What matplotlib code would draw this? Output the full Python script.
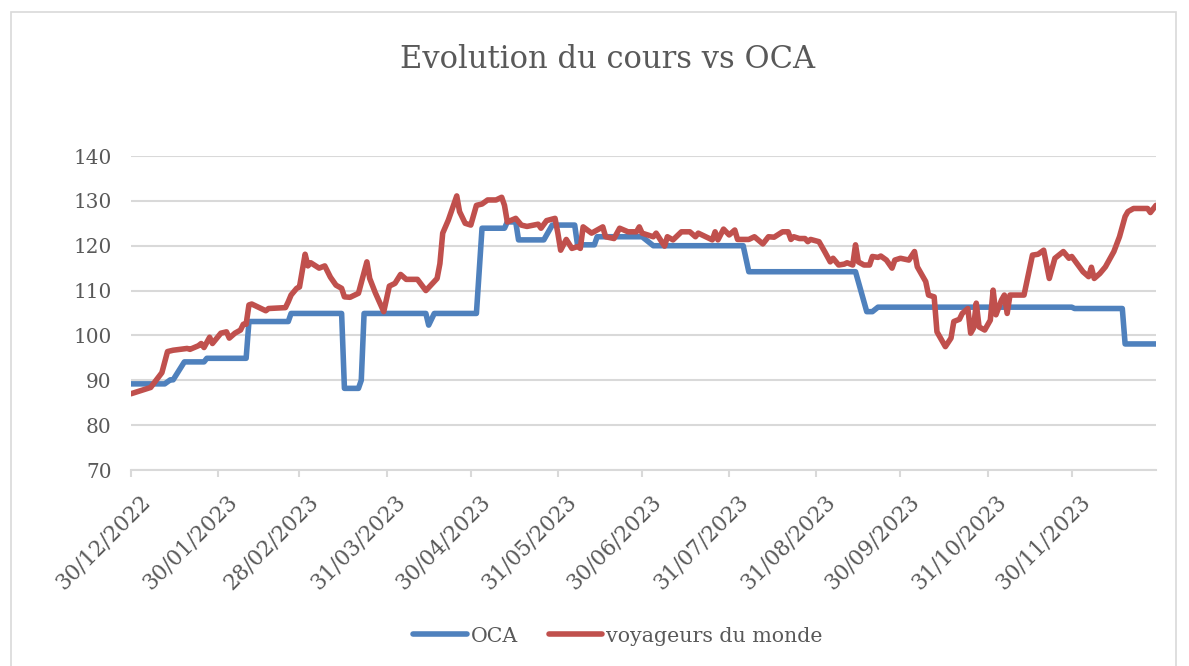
import matplotlib
matplotlib.use("Agg")
import matplotlib.pyplot as plt
import matplotlib.dates as mdates
import matplotlib.transforms as mtransforms
from matplotlib.patches import Rectangle
import pandas as pd

# Start of the series; positions below are days counted from this date
start_date = "2022-12-30"

# OCA (step-like series)
oca_days = [0, 12, 14, 15, 19, 26, 27, 41, 42, 56, 57, 75, 76, 81, 82, 83,
            105, 106, 108, 123, 125, 133, 134, 137, 138, 147, 150, 158, 159,
            165, 166, 182, 186, 218, 220, 258, 262, 264, 266, 335, 336, 353,
            354, 365]
oca_values = [89.2, 89.2, 90.1, 90.1, 94.1, 94.1, 94.9, 94.9, 103.1, 103.1,
              104.9, 104.9, 88.2, 88.2, 90.0, 104.9, 104.9, 102.3, 104.9,
              104.9, 123.9, 123.9, 125.3, 125.3, 121.3, 121.3, 124.6, 124.6,
              120.2, 120.2, 122.0, 122.0, 120.0, 120.0, 114.2, 114.2, 105.3,
              105.3, 106.3, 106.3, 106.0, 106.0, 98.1, 98.1]

# Voyageurs du Monde share price
vdm_days = [0, 7, 11, 13, 15, 20, 21, 24, 25, 26, 28, 29, 32, 34, 35, 37, 39,
            40, 41, 42, 43, 48, 49, 55, 56, 57, 59, 60, 62, 63, 64, 67, 69, 71,
            73, 75, 76, 78, 81, 84, 85, 87, 90, 92, 94, 96, 98, 102, 105, 109,
            110, 111, 113, 116, 117, 119, 121, 123, 125, 127, 130, 132, 133,
            134, 137, 139, 141, 145, 146, 148, 151, 152, 153, 155, 157, 159,
            160, 161, 164, 166, 168, 169, 172, 174, 177, 180, 181, 182, 186,
            187, 190, 191, 193, 196, 199, 201, 202, 206, 207, 208, 209, 211,
            213, 215, 216, 220, 222, 225, 227, 229, 232, 234, 235, 236, 238,
            240, 241, 242, 245, 247, 249, 250, 252, 254, 255, 257, 258, 259,
            261, 263, 264, 266, 267, 269, 271, 272, 274, 277, 279, 280, 283,
            284, 286, 287, 290, 292, 293, 295, 296, 298, 299, 300, 301, 302,
            304, 306, 307, 308, 310, 311, 312, 313, 316, 318, 321, 323, 325,
            327, 329, 332, 334, 335, 337, 339, 341, 342, 343, 345, 347, 350,
            352, 354, 355, 357, 362, 363, 365]
vdm_values = [87.0, 88.4, 91.7, 96.4, 96.7, 97.1, 96.9, 97.7, 98.2, 97.3,
              99.6, 98.2, 100.5, 100.8, 99.4, 100.5, 101.2, 102.5, 102.5,
              106.8, 107.0, 105.5, 106.0, 106.2, 107.5, 109.0, 110.5, 110.8,
              118.1, 115.5, 116.2, 115.0, 115.5, 113.0, 111.2, 110.5, 108.6,
              108.5, 109.4, 116.4, 112.7, 109.5, 105.3, 111.0, 111.6, 113.6,
              112.5, 112.5, 110.0, 112.7, 116.0, 122.8, 125.7, 131.1, 127.6,
              125.0, 124.6, 129.0, 129.3, 130.2, 130.2, 130.8, 129.0, 125.3,
              126.1, 124.6, 124.3, 124.8, 123.9, 125.6, 126.1, 122.8, 119.0,
              121.4, 119.4, 119.8, 119.4, 124.2, 122.8, 123.5, 124.2, 122.0,
              121.6, 123.9, 123.1, 123.1, 124.2, 122.8, 122.0, 122.8, 119.9,
              122.0, 121.3, 123.1, 123.1, 122.0, 122.8, 121.6, 121.3, 123.1,
              121.3, 123.7, 122.4, 123.5, 121.4, 121.4, 122.0, 120.4, 122.0,
              121.9, 123.1, 123.1, 121.4, 122.0, 121.6, 121.6, 120.9, 121.4,
              120.9, 118.7, 116.4, 117.2, 115.7, 115.9, 116.2, 115.7, 120.2,
              116.4, 115.7, 115.7, 117.6, 117.4, 117.7, 116.8, 115.0, 116.8,
              117.2, 116.8, 118.7, 115.3, 112.0, 109.0, 108.6, 100.8, 97.5,
              99.4, 103.1, 103.6, 104.9, 106.0, 100.5, 101.6, 107.2, 101.9,
              101.2, 103.4, 110.1, 104.6, 107.9, 109.0, 104.9, 109.0, 109.0,
              109.0, 117.9, 118.1, 119.0, 112.7, 117.2, 118.7, 117.2, 117.6,
              115.9, 114.2, 113.1, 115.2, 112.7, 113.8, 115.3, 118.7, 122.0,
              126.5, 127.6, 128.3, 128.3, 127.4, 129.0]

tick_dates = ["2022-12-30", "2023-01-30", "2023-02-28", "2023-03-31",
              "2023-04-30", "2023-05-31", "2023-06-30", "2023-07-31",
              "2023-08-31", "2023-09-30", "2023-10-31", "2023-11-30"]

series_names = ["OCA", "voyageurs du monde"]
title = "Evolution du cours vs OCA"

blue = "#4F81BD"
red = "#C0504D"
text_col = "#595959"
grid_col = "#D9D9D9"

plt.rcParams["font.family"] = ["DejaVu Serif"]

t0 = pd.Timestamp(start_date)
oca_x = t0 + pd.to_timedelta(oca_days, unit="D")
vdm_x = t0 + pd.to_timedelta(vdm_days, unit="D")
ticks = pd.to_datetime(tick_dates)

W, H = 1189, 666
fig = plt.figure(figsize=(W / 100, H / 100), dpi=100)
fig.patch.set_facecolor("white")

# chart frame
fig.patches.append(Rectangle((11 / W, -0.01), (1176 - 11) / W, (H - 12) / H + 0.01,
                             transform=fig.transFigure, fill=False,
                             edgecolor="#D9D9D9", linewidth=1.2))

ax = fig.add_axes([131 / W, (H - 470) / H, (1156 - 131) / W, (470 - 156) / H])

ax.plot(oca_x, oca_values, color=blue, lw=4.0, solid_joinstyle="round",
        solid_capstyle="round", label=series_names[0], zorder=3)
ax.plot(vdm_x, vdm_values, color=red, lw=4.0, solid_joinstyle="round",
        solid_capstyle="round", label=series_names[1], zorder=4)

ax.set_xlim(t0, t0 + pd.Timedelta(days=365))
ax.set_ylim(70, 140)
ax.set_yticks(range(70, 141, 10))
ax.yaxis.grid(True, color=grid_col, lw=1.5)
ax.set_axisbelow(True)
for s in ["top", "right", "left"]:
    ax.spines[s].set_visible(False)
ax.spines["bottom"].set_color(grid_col)
ax.spines["bottom"].set_linewidth(1.5)
ax.tick_params(axis="y", length=0, pad=14, labelsize=14.4, labelcolor=text_col)
ax.tick_params(axis="x", length=5, width=1.5, color=grid_col, pad=10,
               labelsize=15.5, labelcolor=text_col)

ax.set_xticks(ticks)
ax.xaxis.set_major_formatter(mdates.DateFormatter("%d/%m/%Y"))
offset = mtransforms.ScaledTranslation(8 / 100, 0, fig.dpi_scale_trans)
for lab in ax.get_xticklabels():
    lab.set_rotation(45)
    lab.set_ha("right")
    lab.set_va("top")
    lab.set_rotation_mode("anchor")
    lab.set_transform(lab.get_transform() + offset)

fig.text(608 / W, 1 - 60 / H, title, ha="center", va="center",
         fontsize=22, color=text_col)

leg = fig.legend(loc="center", bbox_to_anchor=(618 / W, 1 - 636 / H), ncol=2,
                 frameon=False, fontsize=14.8, handlelength=2.6,
                 handletextpad=0.2, columnspacing=1.5)
for t in leg.get_texts():
    t.set_color(text_col)
for h in leg.get_lines():
    h.set_linewidth(4.0)

fig.savefig("out.png", dpi=100)
